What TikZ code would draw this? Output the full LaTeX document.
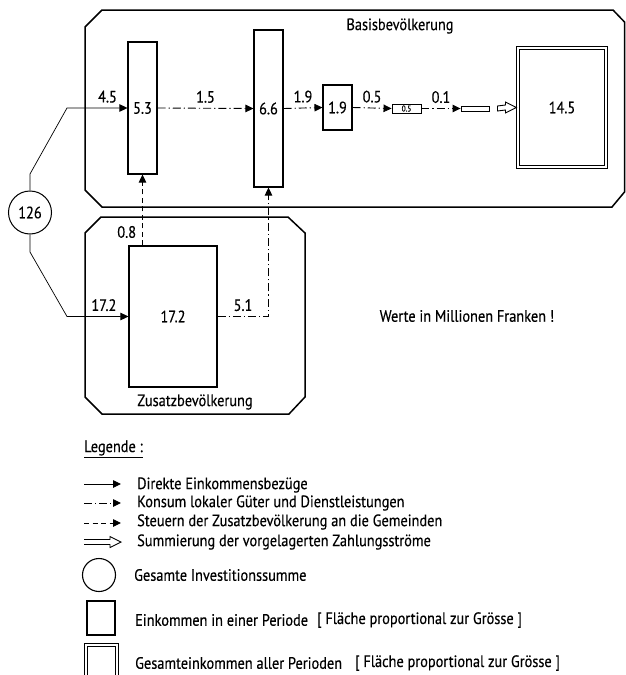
\documentclass[tikz,border=0pt]{standalone}
\usepackage{fontspec}
\setmainfont{PT Sans}[FakeStretch=0.87,FakeBold=0.4]
\usetikzlibrary{arrows.meta,calc}
\newcommand{\fnt}{\fontsize{16.5}{19}\selectfont}
\begin{document}
\begin{tikzpicture}[x=1pt,y=-1pt,
  box/.style={draw, line width=1.1pt, inner sep=0pt, rectangle, font=\fnt},
  lbl/.style={inner sep=0pt, font=\fnt},
  arr/.style={line width=0.9pt, -{Triangle[length=8pt,width=7.5pt]}},
  thinarr/.style={line width=0.7pt, -{Triangle[length=8pt,width=7.5pt]}},
  dd/.style={dash pattern=on 8pt off 3pt on 1.2pt off 3pt},
  ds/.style={dash pattern=on 5pt off 3.5pt},
  region/.style={line width=1.5pt, line join=miter},
  hollow/.style={line width=0.9pt, line join=miter}
]
\useasboundingbox (0,0) rectangle (626,675);
\clip (0,0) rectangle (626,675);

% regions
\draw[region] (85,27) -- (102,10) -- (613,10) -- (624.5,22) -- (624.5,192) -- (612,207) -- (102,207) -- (85,190) -- cycle;
\draw[region] (85,233) -- (101,217) -- (288,217) -- (305,233) -- (305,397) -- (289,414) -- (102,414) -- (85,397) -- cycle;
\node[lbl] at (400,26) {Basisbevölkerung};
\node[lbl] at (195,402) {Zusatzbevölkerung};
\node[lbl] at (467,316) {Werte in Millionen Franken !};

% boxes
\node[box, minimum width=29pt, minimum height=132pt] (b53) at (142.5,108) {5.3};
\node[box, minimum width=29pt, minimum height=157pt] (b66) at (268.5,108.5) {6.6};
\node[box, minimum width=29pt, minimum height=45pt] (b19) at (337.5,107.5) {1.9};
\node[box, minimum width=29pt, minimum height=9pt, line width=0.9pt, font=\fontsize{8.5}{8.5}\selectfont] (b05) at (406.5,108.5) {0.5};
\node[box, minimum width=28pt, minimum height=5pt, line width=0.9pt] (b01) at (475,108.5) {};
\node[box, double, double distance=2.5pt, minimum width=88pt, minimum height=119pt] (b145) at (562,107.5) {14.5};
\node[box, minimum width=88pt, minimum height=141pt] (b172) at (173,316.5) {17.2};
\node[draw, circle, line width=1pt, minimum size=43pt, inner sep=0pt, font=\fnt] (c126) at (30,212.5) {126};

% connectors
\coordinate (k1) at (30,174);
\coordinate (k2) at (67,108);
\coordinate (k3) at (30,252);
\coordinate (k4) at (67,316.5);
\draw[thinarr] (c126.north) -- (k1) -- (k2) -- node[lbl, pos=0.67, above=5pt]{4.5} (b53.west);
\draw[thinarr] (c126.south) -- (k3) -- (k4) -- node[lbl, pos=0.6, above=5pt]{17.2} (b172.west);

\draw[arr, dd] (b53.east) -- node[lbl, above=5pt]{1.5} (b66.west);
\draw[arr, dd] (b66.east) -- node[lbl, above=5pt]{1.9} (b19.west);
\draw[arr, dd] (b19.east) -- node[lbl, above=5pt]{0.5} (b05.west);
\draw[arr, dd] (b05.east) -- node[lbl, above=5pt]{0.1} (b01.west);

\coordinate (h1) at ($(b01.east)+(8,0)$);
\coordinate (h2) at ($(b145.west)+(-1,0)$);
\draw[hollow] ($(h1)+(0,-2.5)$) -- ($(h2)+(-11,-2.5)$) -- ($(h2)+(-11,-5.5)$) -- (h2) -- ($(h2)+(-11,5.5)$) -- ($(h2)+(-11,2.5)$) -- ($(h1)+(0,2.5)$) -- cycle;

\draw[arr, ds] (b53.south |- b172.north) -- node[lbl, pos=0.19, left=6pt]{0.8} (b53.south);
\draw[arr, dd] (b172.east) -| node[lbl, pos=0.25, above=5pt]{5.1} (b66.south);

% legend
\node[lbl, anchor=west] (leg) at (84,449) {\underline{Legende :}};
\coordinate (la1) at (84,484); \coordinate (lb1) at (121,484);
\coordinate (la2) at (84,503); \coordinate (lb2) at (121,503);
\coordinate (la3) at (84,523); \coordinate (lb3) at (121,523);
\coordinate (la4) at (84,542); \coordinate (lb4) at (121,542);
\draw[arr] (la1) -- (lb1);
\draw[arr, dd] (la2) -- (lb2);
\draw[arr, ds] (la3) -- (lb3);
\draw[hollow] ($(la4)+(0,-2.5)$) -- ($(lb4)+(-11,-2.5)$) -- ($(lb4)+(-11,-5.5)$) -- (lb4) -- ($(lb4)+(-11,5.5)$) -- ($(lb4)+(-11,2.5)$) -- ($(la4)+(0,2.5)$);
\node[lbl, anchor=west] at (137,485) {Direkte Einkommensbezüge};
\node[lbl, anchor=west] at (137,503) {Konsum lokaler Güter und Dienstleistungen};
\node[lbl, anchor=west] at (137,522) {Steuern der Zusatzbevölkerung an die Gemeinden};
\node[lbl, anchor=west] at (137,542) {Summierung der vorgelagerten Zahlungsströme};

\node[draw, circle, line width=1.1pt, minimum size=33pt, inner sep=0pt] (lc) at (99,575) {};
\node[lbl, anchor=west] at (134,575) {Gesamte Investitionssumme};
\node[box, minimum width=28pt, minimum height=34pt] (ls) at (101,618) {};
\node[lbl, anchor=west] at (135,620) {Einkommen in einer Periode};
\node[lbl, anchor=west] at (317,620) {[ Fläche proportional zur Grösse ]};
\node[box, double, double distance=2pt, minimum width=31pt, minimum height=38pt] (ld) at (101.5,664) {};
\node[lbl, anchor=west] at (135,663) {Gesamteinkommen aller Perioden};
\node[lbl, anchor=west] at (355,663) {[ Fläche proportional zur Grösse ]};
\end{tikzpicture}
\end{document}
